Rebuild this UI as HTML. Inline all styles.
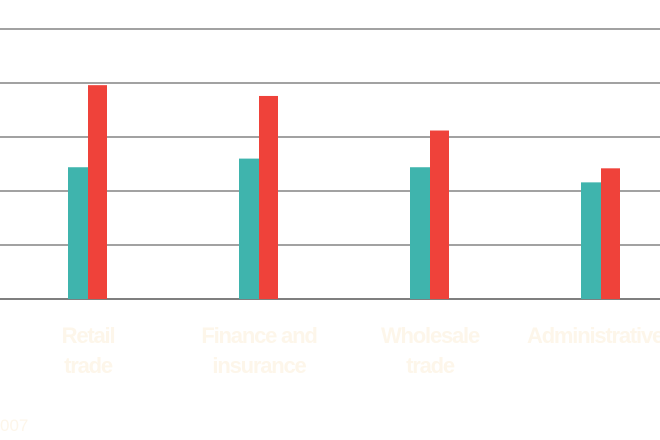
<!DOCTYPE html>
<html><head><meta charset="utf-8"><style>
html,body{margin:0;padding:0;background:#fff;}
svg{display:block;}
text{font-family:"Liberation Sans",sans-serif;}
</style></head><body>
<svg id="chart" width="660" height="440" viewBox="0 0 660 440" xmlns="http://www.w3.org/2000/svg">
<g id="grid"></g>
<g id="bars"></g>
<g id="labels"></g>
<text x="0" y="431" font-size="17" fill="#fdf6ea">007</text>
</svg>
<script>
const categories = [["Retail","trade"],["Finance and","insurance"],["Wholesale","trade"],["Administrative",""]];
const seriesA = [122, 130, 122, 108];
const seriesB = [198, 188, 156, 121];
const ticks = [0, 50, 100, 150, 200, 250];

const NS = "http://www.w3.org/2000/svg";
const baseY = 299, pxPerUnit = 54/50;
const y = v => baseY - v * pxPerUnit;
const xc = i => 88 + i * 171;
const grid = document.getElementById('grid');
const bars = document.getElementById('bars');
const labels = document.getElementById('labels');

ticks.forEach(t => {
  const l = document.createElementNS(NS, 'line');
  
  
  l.setAttribute('x1', 0); l.setAttribute('x2', 660);
  l.setAttribute('y1', y(t)); l.setAttribute('y2', y(t));
  l.setAttribute('stroke', t === 0 ? '#555' : '#444');
  l.setAttribute('stroke-width', t === 0 ? 1.5 : 1);
  grid.appendChild(l);
});

categories.forEach((c, i) => {
  const a = document.createElementNS(NS, 'rect');
  
  
  a.setAttribute('x', xc(i) - 20); a.setAttribute('width', 20);
  a.setAttribute('y', y(seriesA[i])); a.setAttribute('height', baseY - y(seriesA[i]));
  a.setAttribute('fill', '#3fb4ad');
  bars.appendChild(a);
  const b = document.createElementNS(NS, 'rect');
  
  
  b.setAttribute('x', xc(i)); b.setAttribute('width', 19);
  b.setAttribute('y', y(seriesB[i])); b.setAttribute('height', baseY - y(seriesB[i]));
  b.setAttribute('fill', '#ef423a');
  bars.appendChild(b);
  c.forEach((line, k) => {
    if (!line) return;
    const t = document.createElementNS(NS, 'text');
    
    
    t.setAttribute('x', xc(i)); t.setAttribute('y', 343 + k * 30);
    t.setAttribute('text-anchor', i === 3 ? 'start' : 'middle');
    if (i === 3) t.setAttribute('x', 527);
    t.setAttribute('font-size', '22'); t.setAttribute('font-weight', 'bold');
    t.setAttribute('letter-spacing', '-1.2');
    t.setAttribute('fill', '#fdf6ea');
    t.textContent = line;
    labels.appendChild(t);
  });
});
</script>
</body></html>
